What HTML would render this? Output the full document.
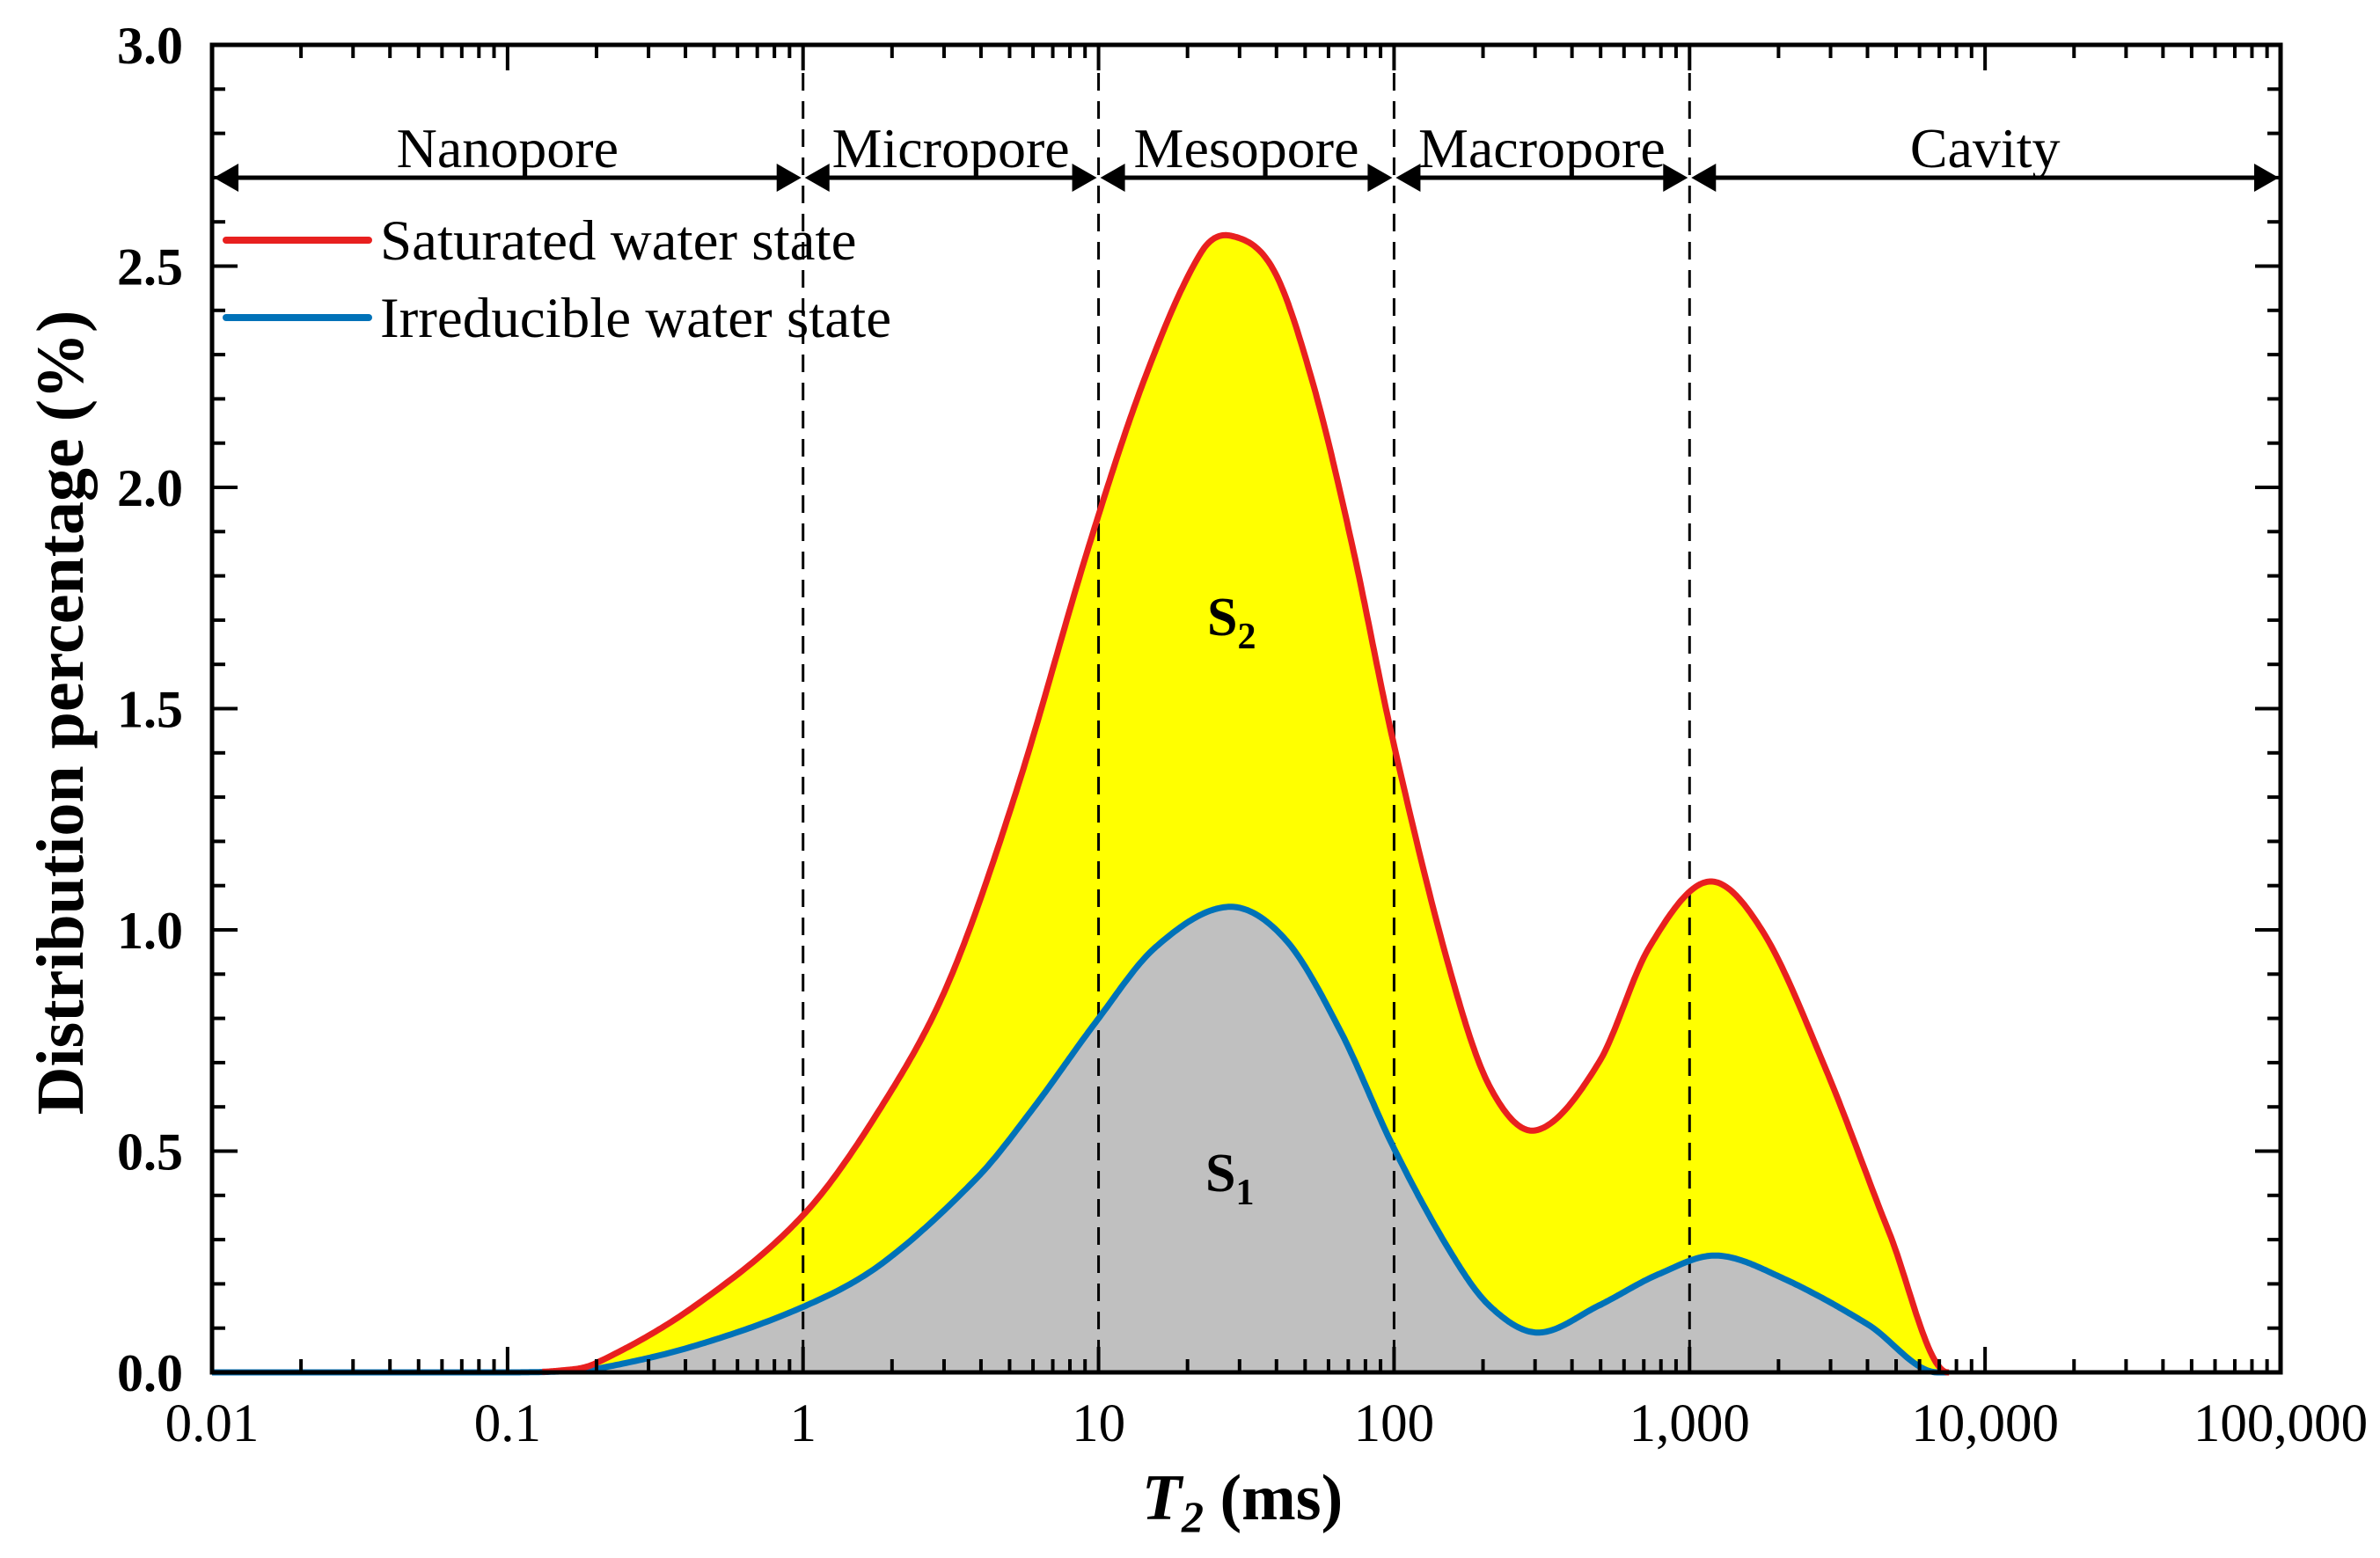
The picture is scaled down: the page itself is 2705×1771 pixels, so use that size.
<!DOCTYPE html>
<html><head><meta charset="utf-8"><style>
html,body{margin:0;padding:0;background:#fff;}
svg{display:block;}
text{font-family:"Liberation Serif",serif;fill:#000;}
</style></head><body>
<svg id="chart" width="2705" height="1771" viewBox="0 0 2705 1771" xmlns="http://www.w3.org/2000/svg">
<g id="fills"></g><g id="grid"></g><g id="curves"></g><g id="axes"></g><g id="labels"></g>
</svg>
<script>
const satT = [0.01,0.1,0.15,0.198,0.43,1,1.84,3.1,5.25,9.27,14.4,22.2,28.3,39.2,53.2,72.3,99,152,210,302,493,731,1156,1770,2900,4730,7480,10000,100000];
const satV = [0,0,0.004,0.02,0.15,0.355,0.6,0.88,1.31,1.867,2.25,2.53,2.568,2.49,2.234,1.867,1.43,0.926,0.648,0.547,0.70,0.961,1.109,0.996,0.683,0.317,0,0,0];
const irrT = [0.01,0.1,0.15,0.2,0.43,1,1.84,3.87,5.98,9.9,15.6,27.4,42.8,66,99,152,210,307,493,780,1233,2080,4020,6900,10000,100000];
const irrV = [0,0,0.002,0.008,0.06,0.148,0.245,0.439,0.595,0.796,0.961,1.052,0.979,0.77,0.512,0.282,0.151,0.09,0.151,0.221,0.264,0.212,0.108,0,0,0];
const xTickVals = [0.01,0.1,1,10,100,1000,10000,100000];
const xTickLabels = ["0.01","0.1","1","10","100","1,000","10,000","100,000"];
const yTickVals = [0,0.5,1,1.5,2,2.5,3];
const yTickLabels = ["0.0","0.5","1.0","1.5","2.0","2.5","3.0"];
const regionBounds = [0.01,1,10,100,1000,100000];
const regionNames = ["Nanopore","Micropore","Mesopore","Macropore","Cavity"];

const L=241,R=2592,T=51,B=1560;
const x=v=>L+(Math.log10(v)+2)/7*(R-L);
const y=v=>B-v/3*(B-T);
const NS="http://www.w3.org/2000/svg";
function mk(tag,parent,attrs){const e=document.createElementNS(NS,tag);for(const k in attrs)e.setAttribute(k,attrs[k]);document.getElementById(parent).appendChild(e);return e;}
function curvePts(ts,vs){
  const lx=ts.map(t=>Math.log10(t)), n=ts.length, m=[];
  for(let i=0;i<n;i++){
    if(i===0) m.push((vs[1]-vs[0])/(lx[1]-lx[0]));
    else if(i===n-1) m.push((vs[n-1]-vs[n-2])/(lx[n-1]-lx[n-2]));
    else m.push((vs[i+1]-vs[i-1])/(lx[i+1]-lx[i-1]));
    if(vs[i]===0) m[i]=0;
  }
  const out=[];
  for(let i=0;i<n-1;i++){
    const h=lx[i+1]-lx[i], steps=30;
    for(let s=0;s<steps;s++){
      const u=s/steps,h00=2*u*u*u-3*u*u+1,h10=u*u*u-2*u*u+u,h01=-2*u*u*u+3*u*u,h11=u*u*u-u*u;
      let v=h00*vs[i]+h10*h*m[i]+h01*vs[i+1]+h11*h*m[i+1];
      if(v<0)v=0;
      out.push([L+(lx[i]+u*h+2)/7*(R-L), y(v)]);
    }
  }
  out.push([x(ts[n-1]),y(vs[n-1])]);
  return out;
}
const toD=p=>'M'+p.map(q=>q[0].toFixed(1)+','+q[1].toFixed(1)).join(' L');
const satP=curvePts(satT,satV), irrP=curvePts(irrT,irrV);
const satD=toD(satP), irrD=toD(irrP);
const x0=x(0.01),x1=x(100000);
let e;
e=mk('path','fills',{d:satD+` L${x1},${B} L${x0},${B} Z`,fill:'#ffff00'});


e=mk('path','fills',{d:irrD+` L${x1},${B} L${x0},${B} Z`,fill:'#c0c0c0'});


for(let i=1;i<regionBounds.length-1;i++){
 e=mk('line','grid',{x1:x(regionBounds[i]),x2:x(regionBounds[i]),y1:T,y2:B,stroke:'#000','stroke-width':3,'stroke-dasharray':'20 12'});
 
 
}
const irrVis=irrP.filter(p=>p[0]<=x(7500));
e=mk('path','curves',{d:toD(irrVis),fill:'none',stroke:'#0072b8','stroke-width':7,'stroke-linejoin':'round'});


const satVis=satP.filter(p=>p[0]>=x(0.13)&&p[0]<=x(7600));
e=mk('path','curves',{d:toD(satVis),fill:'none',stroke:'#e8201f','stroke-width':7,'stroke-linejoin':'round'});


e=mk('rect','axes',{x:L,y:T,width:R-L,height:B-T,fill:'none',stroke:'#000','stroke-width':5});


for(let d=-2;d<5;d++){for(let k=1;k<10;k++){const v=k*Math.pow(10,d);const len=k===1?29:15;
 mk('line','axes',{x1:x(v),x2:x(v),y1:B,y2:B-len,stroke:'#000','stroke-width':4});
 mk('line','axes',{x1:x(v),x2:x(v),y1:T,y2:T+len,stroke:'#000','stroke-width':4});}}
xTickVals.forEach((v,i)=>{e=mk('text','labels',{x:x(v),y:1638,'font-size':61,'text-anchor':'middle'});e.textContent=xTickLabels[i];
 
 });
for(let k=0;k<=30;k++){const v=k/10;const len=k%5===0?29:15;
 mk('line','axes',{x1:L,x2:L+len,y1:y(v),y2:y(v),stroke:'#000','stroke-width':4});
 mk('line','axes',{x1:R,x2:R-len,y1:y(v),y2:y(v),stroke:'#000','stroke-width':4});}
yTickVals.forEach((v,i)=>{e=mk('text','labels',{x:208,y:y(v)+21,'font-size':60,'font-weight':'bold','text-anchor':'end'});e.textContent=yTickLabels[i];
 
 });
for(let i=0;i<regionNames.length;i++){const a=x(regionBounds[i]),b=x(regionBounds[i+1]),yy=202;
 e=mk('g','labels',{});
 
 
 const g=e;
 const l=document.createElementNS(NS,'line');l.setAttribute('x1',a+10);l.setAttribute('x2',b-10);l.setAttribute('y1',yy);l.setAttribute('y2',yy);l.setAttribute('stroke','#000');l.setAttribute('stroke-width',5);g.appendChild(l);
 const p=document.createElementNS(NS,'path');p.setAttribute('d',`M${a+2},${yy} L${a+30},${yy-16} L${a+30},${yy+16} Z M${b-2},${yy} L${b-30},${yy-16} L${b-30},${yy+16} Z`);p.setAttribute('fill','#000');g.appendChild(p);
 e=mk('text','labels',{x:(a+b)/2,y:190,'font-size':64,'text-anchor':'middle'});e.textContent=regionNames[i];
 
 
}
</script>
<svg style="position:absolute;left:0;top:0" width="2705" height="1771">
<g>
<line x1="257" x2="419" y1="273" y2="273" stroke="#e8201f" stroke-width="8" stroke-linecap="round"/>
<text x="432" y="295" font-size="65" style="font-family:'Liberation Serif',serif">Saturated water state</text>
<line x1="257" x2="419" y1="361" y2="361" stroke="#0072b8" stroke-width="8" stroke-linecap="round"/>
<text x="432" y="383" font-size="65" style="font-family:'Liberation Serif',serif">Irreducible water state</text>
</g>
<text x="1372" y="722" font-size="62" font-weight="bold" style="font-family:'Liberation Serif',serif">S<tspan font-size="42" dy="15">2</tspan></text>
<text x="1370" y="1354" font-size="62" font-weight="bold" style="font-family:'Liberation Serif',serif">S<tspan font-size="42" dy="15">1</tspan></text>
<text x="1412" y="1727" font-size="74" font-weight="bold" text-anchor="middle" style="font-family:'Liberation Serif',serif"><tspan font-style="italic">T</tspan><tspan font-size="50" dy="14" font-style="italic">2</tspan><tspan dy="-14"> (ms)</tspan></text>
<text transform="translate(94,810) rotate(-90)" font-size="76" font-weight="bold" text-anchor="middle" style="font-family:'Liberation Serif',serif">Distribution percentage (%)</text>
</svg>
</body></html>
